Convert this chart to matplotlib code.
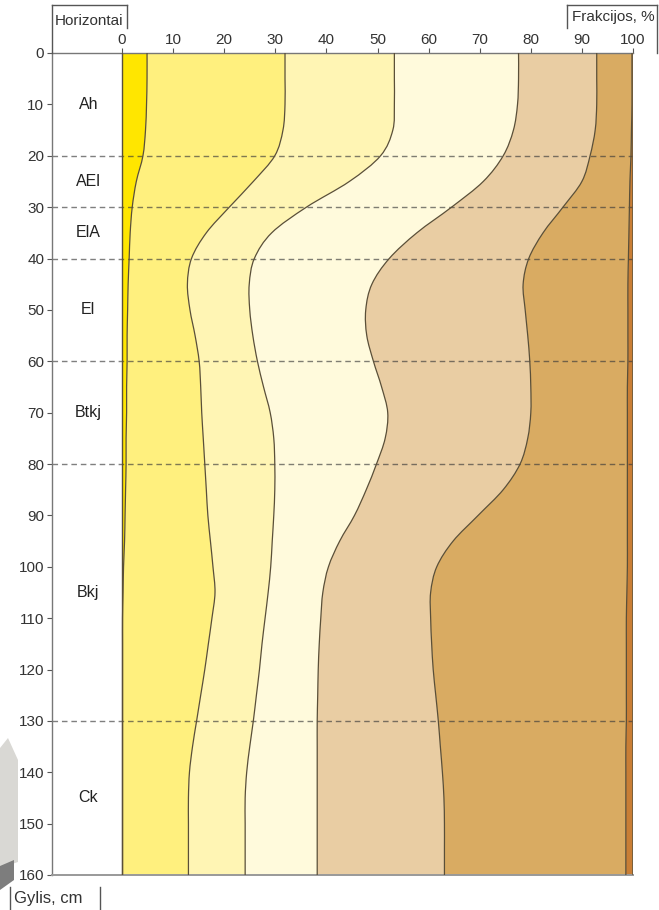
import matplotlib
matplotlib.use("Agg")
import matplotlib.pyplot as plt
from matplotlib.lines import Line2D
from matplotlib.patches import Polygon, PathPatch
from matplotlib.path import Path

plt.rcParams['font.family'] = ['Liberation Sans', 'DejaVu Sans']

# Depth (cm) and cumulative fraction boundaries (%)
depth = [0, 5, 10, 15, 20, 25, 30, 35, 40, 45, 50, 55, 60, 65, 70, 75, 80,
         85, 90, 95, 100, 105, 110, 115, 120, 125, 130, 135, 140, 145, 150, 155, 160]

b1 = [4.9, 4.9, 4.8, 4.6, 4.1, 2.8, 2.0, 1.6, 1.4, 1.2, 1.1, 1.0, 1.0, 0.9, 0.9, 0.8, 0.8,
      0.7, 0.6, 0.5, 0.3, 0.2, 0.1, 0.1, 0.1, 0.1, 0.1, 0.1, 0.1, 0.1, 0.1, 0.1, 0.1]
b2 = [31.9, 31.9, 31.9, 31.5, 29.9, 25.7, 21.0, 16.5, 13.6, 12.8, 13.3, 14.3, 15.1, 15.4, 15.6, 15.9, 16.2,
      16.5, 16.8, 17.3, 17.8, 18.2, 17.6, 16.9, 16.2, 15.4, 14.6, 13.8, 13.2, 13.0, 13.0, 13.0, 13.0]
b3 = [53.3, 53.3, 53.3, 53.0, 50.6, 44.5, 36.1, 29.3, 25.9, 24.9, 25.0, 25.6, 26.5, 27.7, 29.0, 29.7, 29.9,
      29.9, 29.7, 29.4, 29.1, 28.6, 28.0, 27.4, 26.9, 26.3, 25.7, 25.0, 24.4, 24.1, 24.1, 24.1, 24.1]
b4 = [77.6, 77.6, 77.4, 76.6, 74.6, 70.7, 64.5, 57.7, 52.3, 48.9, 47.7, 47.9, 49.2, 50.8, 52.0, 51.5, 49.8,
      47.8, 45.5, 42.6, 40.4, 39.3, 38.9, 38.6, 38.4, 38.3, 38.2, 38.2, 38.2, 38.2, 38.2, 38.2, 38.2]
b5 = [92.9, 92.9, 92.9, 92.6, 91.6, 90.0, 86.3, 82.4, 79.6, 78.5, 78.9, 79.4, 79.8, 80.0, 80.0, 79.4, 77.9,
      74.6, 69.7, 64.8, 61.6, 60.4, 60.4, 60.6, 60.9, 61.4, 61.9, 62.3, 62.7, 63.0, 63.1, 63.1, 63.1]
b6 = [99.8, 99.8, 99.8, 99.7, 99.6, 99.4, 99.3, 99.2, 99.1, 99.0, 99.0, 99.0, 99.0, 98.9, 98.9, 98.9, 98.9,
      98.9, 98.9, 98.9, 98.9, 98.8, 98.7, 98.7, 98.7, 98.7, 98.7, 98.6, 98.6, 98.6, 98.6, 98.6, 98.6]

layer_colors = ['#FFE600', '#FFF07E', '#FFF5B4', '#FFFADC', '#E9CDA3', '#D9AB62', '#C97E35']

horizon_names = ['Ah', 'AEl', 'ElA', 'El', 'Btkj', 'Bkj', 'Ck']
horizon_depths = [10, 25, 35, 50, 70, 105, 145]
horizon_bounds = [20, 30, 40, 60, 80, 130]

x_ticks = list(range(0, 101, 10))
y_ticks = list(range(0, 161, 10))

W, H = 659, 910
fig = plt.figure(figsize=(W / 100, H / 100), dpi=100)


def fx(px):
    return px / W


def fy(py):
    return 1 - py / H


def smooth_segments(xs, ys):
    """Cubic Bezier control points (Catmull-Rom style) through the given points."""
    pts = list(zip(xs, ys))
    n = len(pts)
    verts = [pts[0]]
    codes = [Path.MOVETO]
    for i in range(n - 1):
        p0 = pts[i - 1] if i > 0 else pts[i]
        p1 = pts[i]
        p2 = pts[i + 1]
        p3 = pts[i + 2] if i + 2 < n else pts[i + 1]
        c1 = (p1[0] + (p2[0] - p0[0]) / 6, p1[1] + (p2[1] - p0[1]) / 6)
        c2 = (p2[0] - (p3[0] - p1[0]) / 6, p2[1] - (p3[1] - p1[1]) / 6)
        verts += [c1, c2, p2]
        codes += [Path.CURVE4] * 3
    return verts, codes


ax = fig.add_axes([fx(52), fy(875), fx(633) - fx(52), fy(53) - fy(875)])
ax.set_xlim(-13.7, 100)
ax.set_ylim(160, 0)

zeros = [0.0] * len(depth)
hundreds = [100.0] * len(depth)
bounds = [zeros, b1, b2, b3, b4, b5, b6, hundreds]

for i, col in enumerate(layer_colors):
    lv, lcodes = smooth_segments(bounds[i], depth)
    rv, rcodes = smooth_segments(bounds[i + 1][::-1], depth[::-1])
    verts = lv + rv[0:1] + rv[1:] + [lv[0]]
    codes = lcodes + [Path.LINETO] + rcodes[1:] + [Path.CLOSEPOLY]
    ax.add_patch(PathPatch(Path(verts, codes), facecolor=col, edgecolor='none', lw=0, zorder=1))

line_col = '#5a4f38'
ax.plot(zeros, depth, color=line_col, lw=1.0, zorder=3)
for b in [b1, b2, b3, b4, b5, b6]:
    v, c = smooth_segments(b, depth)
    ax.add_patch(PathPatch(Path(v, c), facecolor='none', edgecolor=line_col, lw=0.9, zorder=3))
ax.plot(hundreds, depth, color='#6a5a40', lw=1.2, zorder=3)

for d in horizon_bounds:
    ax.axhline(d, color='#3a3a3a', alpha=0.65, lw=1.0, dashes=(4, 2.8), zorder=2)

for name, d in zip(horizon_names, horizon_depths):
    ax.text(-6.6, d, name, ha='center', va='center', fontsize=11.5, color='#222222')

ax.xaxis.tick_top()
ax.set_xticks(x_ticks)
ax.set_yticks(y_ticks)
ax.tick_params(axis='both', labelsize=11, colors='#555555', labelcolor='#333333',
               length=3.5, width=0.8, pad=2)
ax.tick_params(axis='x', pad=1)

for s in ['left', 'top']:
    ax.spines[s].set_color('#777777')
    ax.spines[s].set_linewidth(1.0)
ax.spines['bottom'].set_color('#999999')
ax.spines['bottom'].set_linewidth(1.4)
ax.spines['right'].set_visible(False)

# header brackets
lc = '#555555'


def seg(x0, y0, x1, y1):
    fig.add_artist(Line2D([fx(x0), fx(x1)], [fy(y0), fy(y1)], color=lc, lw=1.0))


seg(52, 5, 52, 53)
seg(52, 5, 127, 5)
seg(127, 5, 127, 28)
fig.text(fx(55), fy(21), 'Horizontai', fontsize=11, color='#333333', va='center', ha='left')

seg(567, 5, 567, 28)
seg(567, 5, 657, 5)
seg(657, 5, 657, 53)
fig.text(fx(655), fy(17), 'Frakcijos, %', fontsize=11, color='#333333', va='center', ha='right')

seg(10, 887, 10, 910)
seg(100, 887, 100, 910)
fig.text(fx(14), fy(898), 'Gylis, cm', fontsize=12, color='#333333', va='center', ha='left')

# small grey box graphic at the lower left edge
fig.add_artist(Polygon([[fx(0), fy(748)], [fx(8), fy(738)], [fx(18), fy(760)],
                        [fx(18), fy(862)], [fx(0), fy(868)]], closed=True,
                       facecolor='#d9d8d4', edgecolor='none'))
fig.add_artist(Polygon([[fx(0), fy(866)], [fx(14), fy(860)], [fx(14), fy(880)],
                        [fx(0), fy(890)]], closed=True,
                       facecolor='#7d7d7d', edgecolor='none'))

fig.savefig('out.png', dpi=100)
